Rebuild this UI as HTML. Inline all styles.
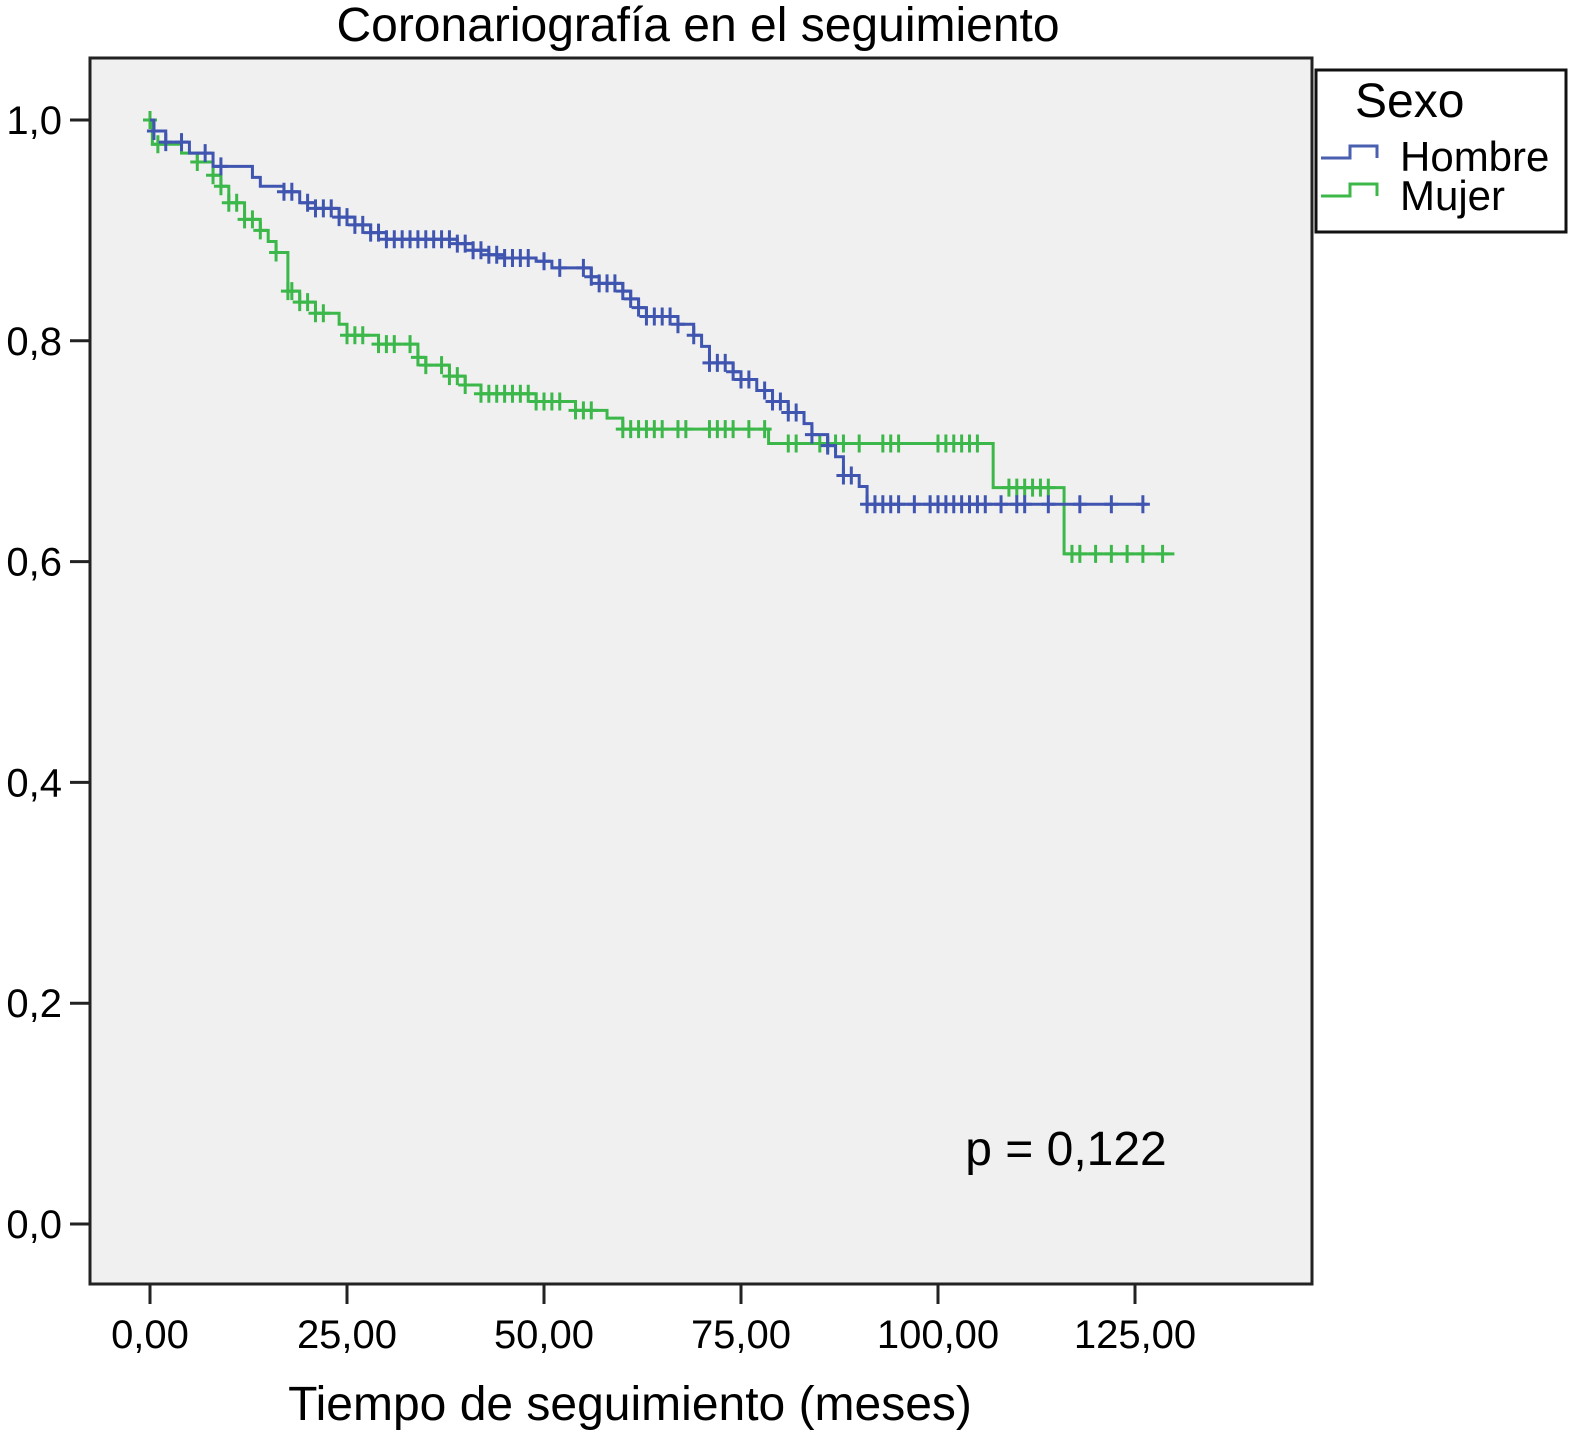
<!DOCTYPE html>
<html><head><meta charset="utf-8">
<style>
html,body{margin:0;padding:0;background:#fff;}
svg{display:block;font-family:"Liberation Sans",Arial,sans-serif;}
</style></head>
<body>
<svg id="chart" width="1575" height="1436" viewBox="0 0 1575 1436">
  <text x="698" y="41" font-size="48" text-anchor="middle">Coronariografía en el seguimiento</text>
  <rect x="90" y="58" width="1222" height="1226" fill="#f0f0f0" stroke="#222" stroke-width="3"/>
  <g id="yaxis"></g>
  <g id="xaxis"></g>
  <g id="series"></g>
  <text x="1066" y="1165" font-size="48" text-anchor="middle">p = 0,122</text>
  <text x="630" y="1420" font-size="48" text-anchor="middle">Tiempo de seguimiento (meses)</text>
  <g>
    <rect x="1316" y="70" width="250" height="162" fill="#fff" stroke="#111" stroke-width="3"/>
    <text x="1355" y="117" font-size="48">Sexo</text>
    <path d="M1321 158 H1350 V146 H1377 V158" fill="none" stroke="#4a5fb0" stroke-width="3"/>
    <text x="1400" y="171" font-size="42">Hombre</text>
    <path d="M1321 196 H1350 V184 H1377 V196" fill="none" stroke="#3cb84a" stroke-width="3"/>
    <text x="1400" y="210" font-size="42">Mujer</text>
  </g>
</svg>
<script>
const yTicks = [0, 0.2, 0.4, 0.6, 0.8, 1.0];
const yTickLabels = ["0,0","0,2","0,4","0,6","0,8","1,0"];
const xTicks = [0, 25, 50, 75, 100, 125];
const xTickLabels = ["0,00","25,00","50,00","75,00","100,00","125,00"];

const hombreTimes = [0,0.5,2,5,8,13,14,17,19,21,24,26,28,30,39,41,43,45,49,51,56,57,60,61,62,63,67,69,70,71,74,75,77,79,81,83,84,86,87,88,90,91];
const hombreSurv  = [1.0,0.99,0.98,0.97,0.958,0.948,0.94,0.935,0.925,0.92,0.912,0.905,0.898,0.892,0.888,0.882,0.878,0.875,0.872,0.866,0.858,0.852,0.845,0.838,0.83,0.822,0.815,0.805,0.795,0.78,0.772,0.765,0.755,0.745,0.735,0.725,0.715,0.705,0.695,0.678,0.668,0.652];
const hombreEnd = 126.5;
const hombreCensor = [0.5,2,4,7,9,17,18,20,21,22,23,24,25,26,27,28,29,30,31,32,33,34,35,36,37,38,39,40,41,42,43,44,45,46,47,48,50,52,55,56,57,58,59,60,61,62,63,64,65,66,67,69,71,72,73,74,75,76,78,79,80,81,82,84,86,88,89,91,92,93,94,95,97,99,100,101,102,103,104,105,106,108,110,111,114,118,122,126];

const mujerTimes = [0,0.3,4,6,8,9,10,12,14,15,16,17.5,19,21,24,25,29,34,35,38,40,42,49,54,58,60,78.5,107,116];
const mujerSurv  = [1.0,0.978,0.97,0.962,0.95,0.94,0.925,0.91,0.9,0.89,0.88,0.845,0.835,0.825,0.815,0.805,0.797,0.785,0.778,0.768,0.76,0.752,0.745,0.737,0.73,0.72,0.707,0.667,0.607];
const mujerEnd = 130;
const mujerCensor = [0,1,6,8,9,10,11,12,13,14,16,17.5,18,19,20,21,22,25,26,27,29,30,31,33,34,35,37,38,39,40,42,43,44,45,46,47,48,49,50,51,52,54,55,56,60,61,62,63,64,65,67,68,71,72,73,74,76,78,81,82,85,86,87,88,90,93,94,95,100,101,102,103,104,105,109,110,111,112,113,114,117,118,120,122,124,126,128.5];

const NS = "http://www.w3.org/2000/svg";
function xs(t){ return 150 + t * (985/125); }
function ys(s){ return 1224 - s * 1104; }
function mk(tag, attrs, parent){ const e = document.createElementNS(NS, tag); for (const k in attrs) e.setAttribute(k, attrs[k]); parent.appendChild(e); return e; }

const yg = document.getElementById('yaxis');
yTicks.forEach((v,i)=>{
  const l = mk('line',{x1:70,x2:90,y1:ys(v),y2:ys(v),stroke:'#222','stroke-width':3},yg);
  
  
  const t = mk('text',{x:62,y:ys(v)+14,'font-size':40,'text-anchor':'end'},yg);
  t.textContent = yTickLabels[i];
  
  
});
const xg = document.getElementById('xaxis');
xTicks.forEach((v,i)=>{
  const l = mk('line',{x1:xs(v),x2:xs(v),y1:1284,y2:1304,stroke:'#222','stroke-width':3},xg);
  
  
  const t = mk('text',{x:xs(v),y:1348,'font-size':40,'text-anchor':'middle'},xg);
  t.textContent = xTickLabels[i];
  
  
});

function survAt(times, surv, t){ let s = surv[0]; for (let i=0;i<times.length;i++){ if (times[i] <= t) s = surv[i]; } return s; }
const sg = document.getElementById('series');
function drawSeries(times, surv, end, censor, color, name){
  let d = 'M' + xs(times[0]) + ' ' + ys(surv[0]);
  for (let i=1;i<times.length;i++){ d += ' H' + xs(times[i]) + ' V' + ys(surv[i]); }
  d += ' H' + xs(end);
  const p = mk('path',{d:d,fill:'none',stroke:color,'stroke-width':3},sg);
  
  
  censor.forEach(t=>{
    const x = xs(t), y = ys(survAt(times, surv, t));
    const c = mk('path',{d:'M'+x+' '+(y-9)+' V'+(y+9)+' M'+(x-7)+' '+y+' H'+(x+7),stroke:color,'stroke-width':3,fill:'none'},sg);
    
    
  });
}
drawSeries(mujerTimes, mujerSurv, mujerEnd, mujerCensor, '#3cb84a', 'mujer');
drawSeries(hombreTimes, hombreSurv, hombreEnd, hombreCensor, '#3f55b0', 'hombre');
</script>
</body></html>
